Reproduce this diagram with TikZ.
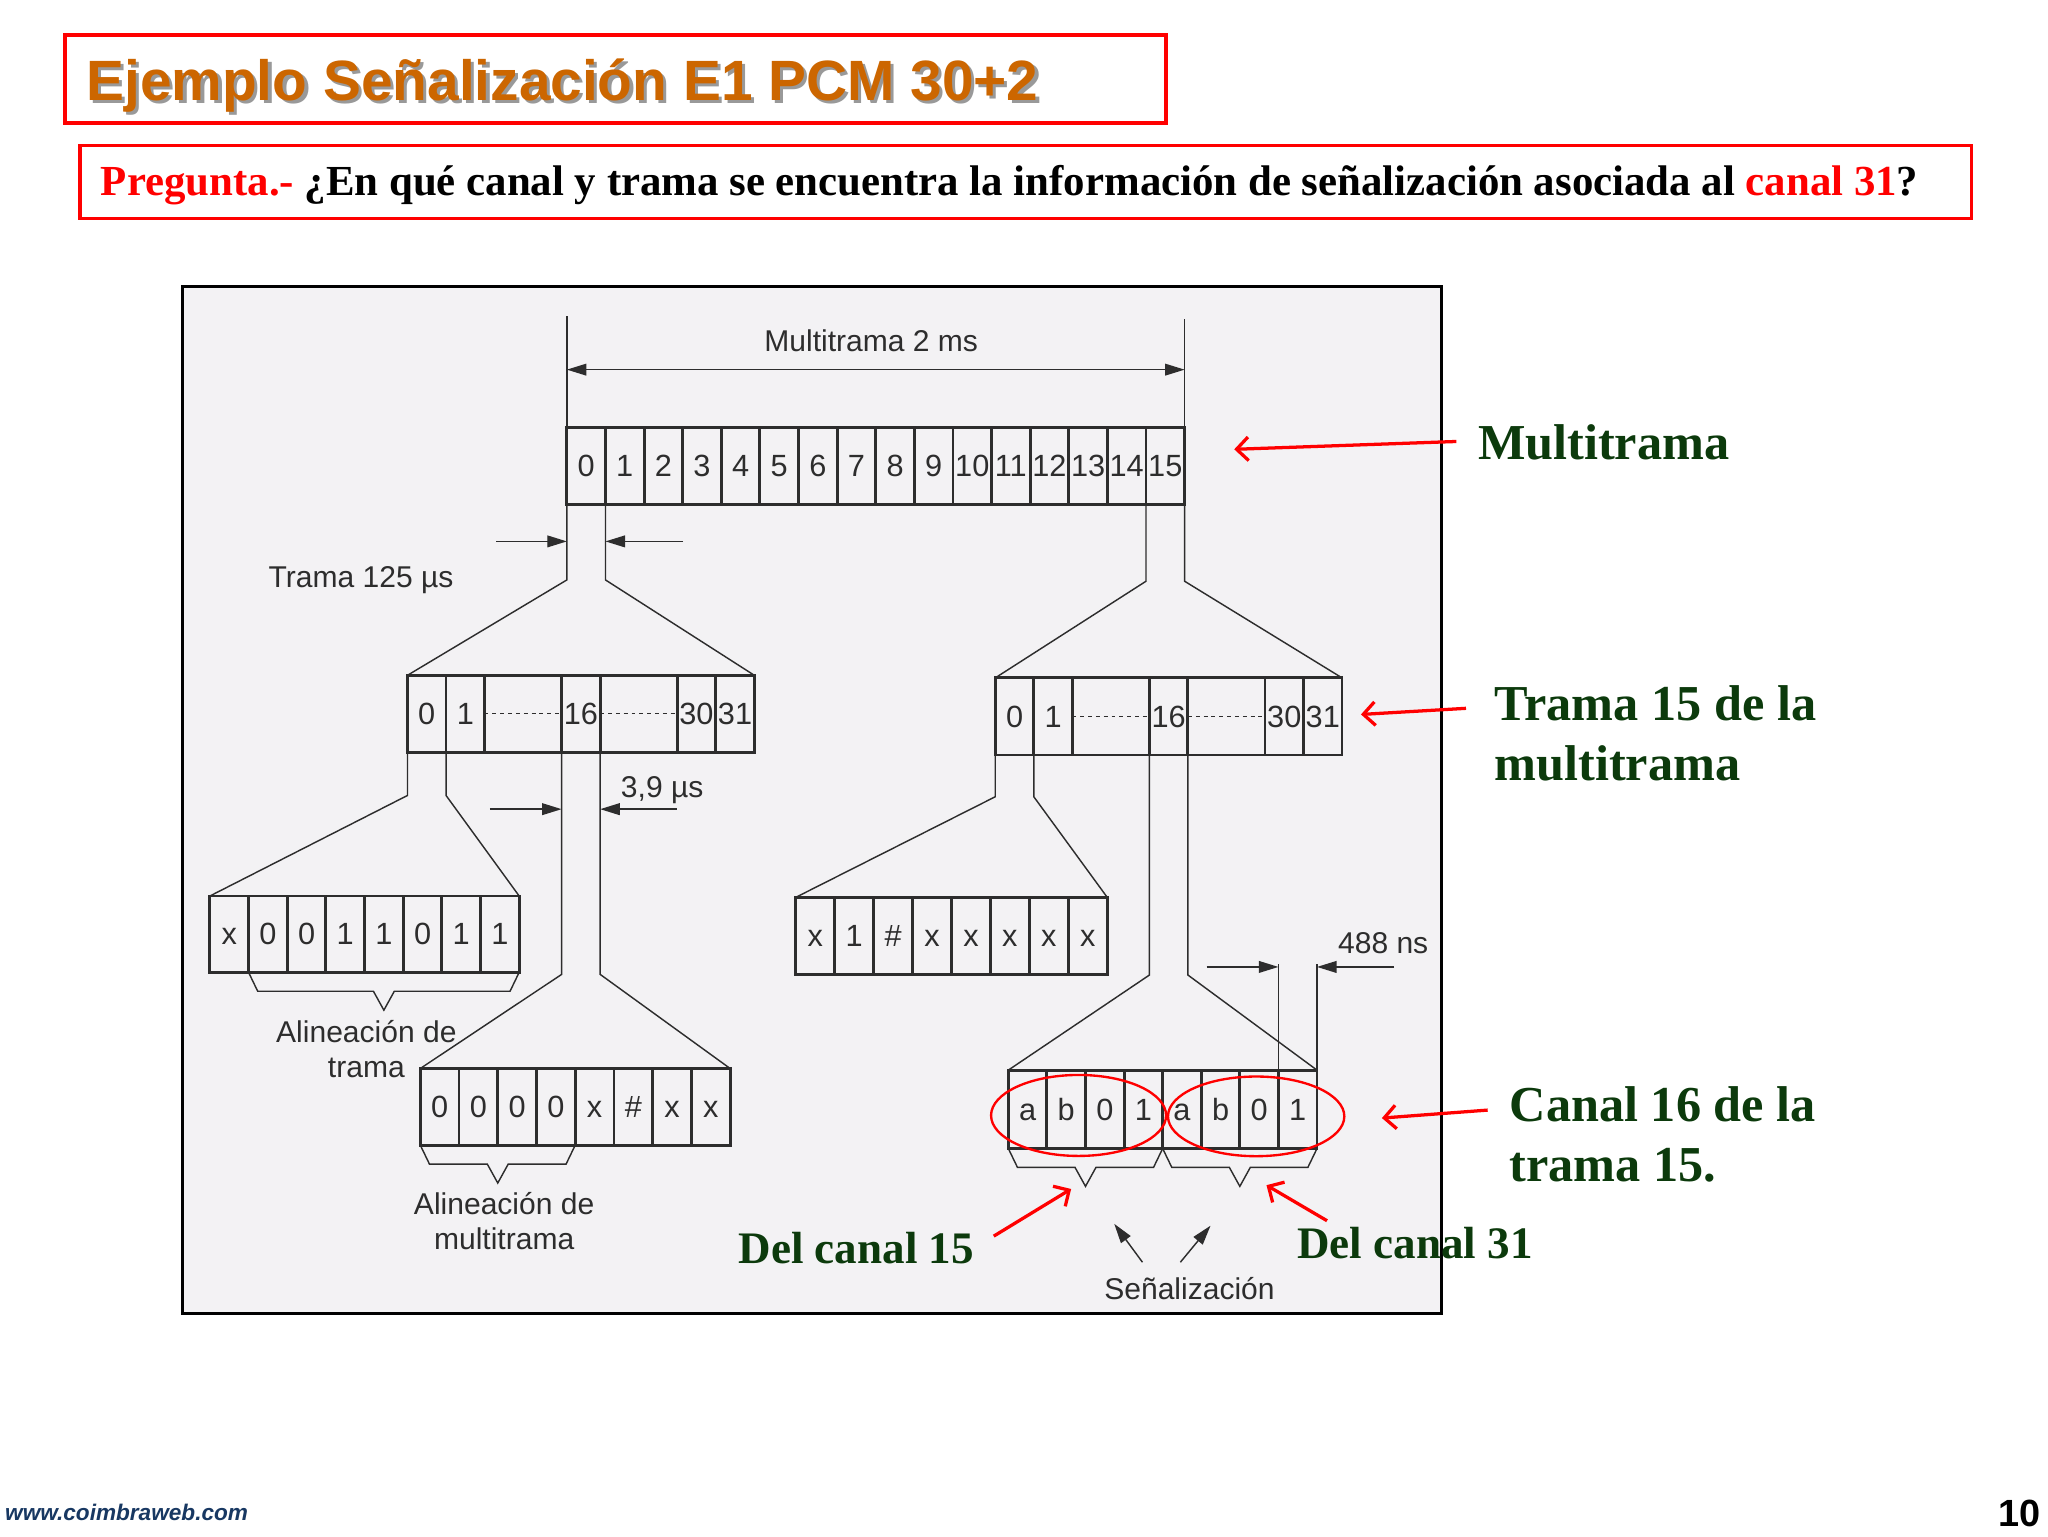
\documentclass[tikz,border=0pt]{standalone}
\usepackage{fontspec}
\setmainfont{Liberation Serif}
\setsansfont{Liberation Sans}
\usepackage{xcolor}
\usetikzlibrary{arrows.meta, positioning, calc, shapes.geometric}

\definecolor{tituloNaranja}{RGB}{204,102,0}
\definecolor{verdeOsc}{RGB}{12,58,12}
\definecolor{grisLinea}{RGB}{45,45,45}
\definecolor{grisFondo}{RGB}{243,242,244}
\definecolor{azulWeb}{RGB}{24,56,98}

\tikzset{
  slot/.style={draw=grisLinea, line width=2.2pt, outer sep=0pt, inner sep=0pt, minimum height=59pt,
    text height=16.5pt, text depth=0pt, text=grisLinea, font=\sffamily\fontsize{23.5}{23.5}\selectfont},
  fan/.style={draw=grisLinea, line width=1.1pt},
  dimarrow/.style={fan, -{Triangle[length=15pt,width=9pt]}},
  redarrow/.style={draw=red, line width=2.5pt, -{Straight Barb[length=9pt,width=18pt]}},
  nota/.style={text=grisLinea, inner sep=0pt, align=center, font=\sffamily\fontsize{23}{26.7}\selectfont},
  verde/.style={text=verdeOsc, inner sep=0pt, align=left, anchor=base west, font=\bfseries\fontsize{38.5}{46}\selectfont},
  ovalo/.style={draw=red, ellipse, line width=1.8pt, inner sep=0pt},
}

% llave bajo un grupo de bits
\newcommand{\llave}[2]{%
  \draw[fan] (#1) -- ++(7,14.5) -- ($(#1)!.5!(#2)+(-8,14.5)$) -- ++(8,14.5) -- ++(8,-14.5) -- ($(#2)+(-7,14.5)$) -- (#2);}

\begin{document}
\begin{tikzpicture}[x=1pt, y=-1pt]
\useasboundingbox (0,0) rectangle (1568,1176);
\fill[white] (0,0) rectangle (1568,1176);

% titulo y pregunta
\node[draw=red, line width=3pt, anchor=north west, minimum width=843pt, minimum height=68pt] (titbox) at (48,25) {};
\node[anchor=base west, inner sep=0pt, text=black!40, font=\sffamily\bfseries\fontsize{43.5}{50}\selectfont] (titsombra) at (68.5,79.5) {Ejemplo Señalización E1 PCM 30+2};
\node[anchor=base west, inner sep=0pt, text=tituloNaranja, font=\sffamily\bfseries\fontsize{43.5}{50}\selectfont] (titulo) at (66,77) {Ejemplo Señalización E1 PCM 30+2};

\node[draw=red, line width=2.5pt, anchor=north west, minimum width=1448pt, minimum height=56pt] (pregbox) at (60,110) {};
\node[anchor=base west, inner sep=0pt, font=\bfseries\fontsize{32.8}{40}\selectfont] (pregunta) at (77,149.8)
  {\textcolor{red}{Pregunta.-} ¿En qué canal y trama se encuentra la información de señalización asociada al \textcolor{red}{canal 31}?};

% marco del diagrama
\draw[line width=2.3pt, fill=grisFondo] (140,219) rectangle (1103.5,1005.5);

% multitrama
\foreach \i in {0,...,15}
  \node[slot, minimum width=29.56pt] (m\i) at ({434+29.56*(\i+0.5)},356.5) {\i};

% tramas
\foreach \c/\k in {0/0,1/1,16/4,30/7,31/8}{
  \node[slot, minimum width=29.5pt] (tA\c) at ({312+29.5*(\k+0.5)},546.5) {\c};
  \node[slot, minimum width=29.5pt] (tB\c) at ({762+29.5*(\k+0.5)},548.5) {\c};
}
\draw[line width=2.2pt, grisLinea] (tA0.north west) rectangle (tA31.south east);
\draw[line width=2.2pt, grisLinea] (tB0.north west) rectangle (tB31.south east);
\draw[fan, line width=0.8pt, dash pattern=on 3pt off 3pt] (tA1.east) -- (tA16.west) (tA16.east) -- (tA30.west);
\draw[fan, line width=0.8pt, dash pattern=on 3pt off 3pt] (tB1.east) -- (tB16.west) (tB16.east) -- (tB30.west);

% canales
\foreach \b [count=\k from 0] in {x,0,0,1,1,0,1,1}
  \node[slot, minimum width=29.6pt, minimum height=58.4pt] (fA\k) at ({160.7+29.6*(\k+0.5)},715.2) {\b};
\foreach \b [count=\k from 0] in {0,0,0,0,x,\#,x,x}
  \node[slot, minimum width=29.65pt, minimum height=58.7pt] (mA\k) at ({321.8+29.65*(\k+0.5)},847.4) {\b};
\foreach \b [count=\k from 0] in {x,1,\#,x,x,x,x,x}
  \node[slot, minimum width=29.8pt] (nB\k) at ({609.3+29.8*(\k+0.5)},716.5) {\b};
\foreach \b [count=\k from 0] in {a,b,0,1,a,b,0,1}
  \node[slot, minimum width=29.54pt, minimum height=60pt] (sB\k) at ({772+29.54*(\k+0.5)},849.3) {\b};

% abanicos
\draw[fan] (m0.south west) -- ++(0,58) -- (tA0.north west);
\draw[fan] (m0.south east) -- ++(0,58) -- (tA31.north east);
\draw[fan] (m15.south west) -- ++(0,59) -- (tB0.north west);
\draw[fan] (m15.south east) -- ++(0,59) -- (tB31.north east);
\draw[fan] (tA0.south west) -- ++(0,33) -- (fA0.north west);
\draw[fan] (tA0.south east) -- ++(0,33) -- (fA7.north east);
\draw[fan] (tA16.south west) -- ++(0,170) -- (mA0.north west);
\draw[fan] (tA16.south east) -- ++(0,170) -- (mA7.north east);
\draw[fan] (tB0.south west) -- ++(0,32) -- (nB0.north west);
\draw[fan] (tB0.south east) -- ++(0,32) -- (nB7.north east);
\draw[fan] (tB16.south west) -- ++(0,168.5) -- (sB0.north west);
\draw[fan] (tB16.south east) -- ++(0,168.5) -- (sB7.north east);

% cotas
\draw[fan] (m0.north west) -- ++(0,-85);
\draw[fan] (m15.north east) -- ++(0,-83);
\draw[fan, {Triangle[length=15pt,width=9pt]}-{Triangle[length=15pt,width=9pt]}] ([shift={(0,-44)}]m0.north west) -- ([shift={(0,-44)}]m15.north east);
\node[nota] (ms) at (667,261) {Multitrama 2 ms};

\draw[dimarrow] ([shift={(-54,28.5)}]m0.south west) -- ([shift={(0,28.5)}]m0.south west);
\draw[dimarrow] ([shift={(59.5,28.5)}]m0.south east) -- ([shift={(0,28.5)}]m0.south east);
\node[nota] (t125) at (276.5,444) {Trama 125 µs};

\draw[dimarrow] ([shift={(-55,43.5)}]tA16.south west) -- ([shift={(0,43.5)}]tA16.south west);
\draw[dimarrow] ([shift={(58.5,43.5)}]tA16.south east) -- ([shift={(0,43.5)}]tA16.south east);
\node[nota] (t39) at (507,605) {3,9 µs};

\draw[fan] (sB6.north east) -- ++(0,-81);
\draw[fan] (sB7.north east) -- ++(0,-81);
\draw[dimarrow] ([shift={(-55,-79)}]sB6.north east) -- ([shift={(0,-79)}]sB6.north east);
\draw[dimarrow] ([shift={(59,-79)}]sB7.north east) -- ([shift={(0,-79)}]sB7.north east);
\node[nota] (t488) at (1059,722) {488 ns};

% llaves y textos
\llave{fA1.south west}{fA7.south east}
\llave{mA0.south west}{mA3.south east}
\llave{sB0.south west}{sB3.south east}
\llave{sB4.south west}{sB7.south east}
\node[nota] (alTrama) at (280.5,803) {Alineación de\\trama};
\node[nota] (alMulti) at (386,935) {Alineación de\\multitrama};
\node[nota] (senal) at (910.7,986.4) {Señalización};
\draw[dimarrow] ([shift={(-36,-20)}]senal.center) -- ++(-21.6,-29.4);
\draw[dimarrow] ([shift={(-7,-20)}]senal.center) -- ++(23.1,-28);

% marcas en rojo
\node[ovalo, minimum width=134pt, minimum height=62pt] (ov15) at ($(sB1.east)+(-5.3,4.7)$) {};
\node[ovalo, minimum width=135pt, minimum height=61pt] (ov31) at ($(sB5.east)+(12.5,5.4)$) {};

\node[verde] (lbMulti) at (1131.4,352) {Multitrama};
\node[verde] (lbTrama) at (1144,597.3) {Trama 15 de la\\multitrama};
\node[verde] (lbCanal) at (1155.7,904.7) {Canal 16 de la\\trama 15.};
\node[verde, font=\bfseries\fontsize{34.5}{40}\selectfont] (lb15) at (565.3,967) {Del canal 15};
\node[verde, font=\bfseries\fontsize{34.5}{40}\selectfont] (lb31) at (993,963.4) {Del canal 31};

\draw[redarrow] ([shift={(-16.4,-14)}]lbMulti.base west) -- ([shift={(38,-12.5)}]m15.east);
\draw[redarrow] ([shift={(-21.6,-55)}]lbTrama.base west) -- ([shift={(14.5,-1.5)}]tB31.east);
\draw[redarrow] ([shift={(-16.7,-54.8)}]lbCanal.base west) -- ([shift={(49.7,6.7)}]sB7.east);
\draw[redarrow] ([shift={(15,-20.6)}]lb15.base east) -- ([shift={(-11,31)}]sB1.south east);
\draw[redarrow] ([shift={(23,-28.8)}]lb31.base west) -- ([shift={(20.4,28.1)}]sB5.south east);

% pie
\node[anchor=base west, inner sep=0pt, text=azulWeb, font=\sffamily\bfseries\itshape\fontsize{17.3}{20}\selectfont] (web) at (3.8,1163.8) {www.coimbraweb.com};
\node[anchor=base east, inner sep=0pt, font=\sffamily\bfseries\fontsize{29}{30}\selectfont] (pag) at (1562.3,1168.9) {10};
\end{tikzpicture}
\end{document}
